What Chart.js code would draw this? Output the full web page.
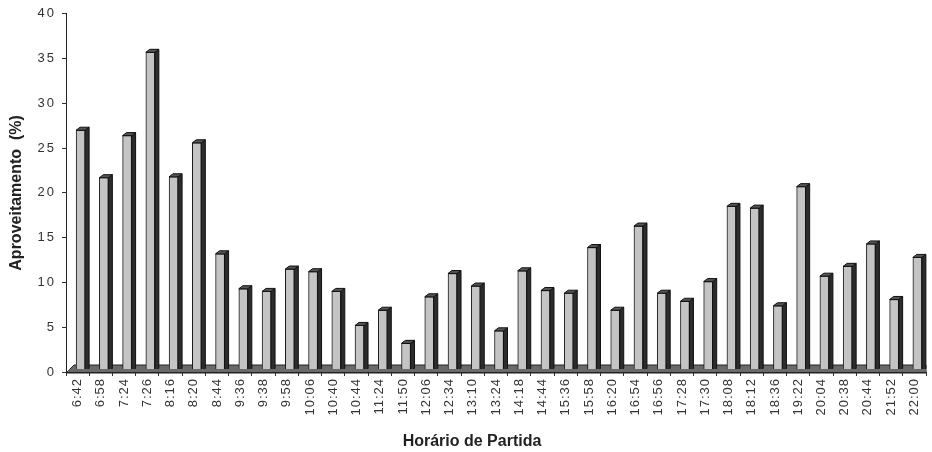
<!DOCTYPE html>
<html>
<head>
<meta charset="utf-8">
<script src="https://cdn.jsdelivr.net/npm/chart.js@4.4.1/dist/chart.umd.min.js"></script>
<style>
  html, body { margin: 0; padding: 0; background: #ffffff; }
  #wrap { width: 932px; height: 452px; }
</style>
</head>
<body>
<div id="wrap"><canvas id="chart" width="932" height="452"></canvas></div>
<script>
// Departure times (categories)
const departureTimes = [
  '6:42', '6:58', '7:24', '7:26', '8:16', '8:20', '8:44', '9:36', '9:38', '9:58',
  '10:06', '10:40', '10:44', '11:24', '11:50', '12:06', '12:34', '13:10', '13:24', '14:18',
  '14:44', '15:36', '15:58', '16:20', '16:54', '16:56', '17:28', '17:30', '18:08', '18:12',
  '18:36', '19:22', '20:04', '20:38', '20:44', '21:52', '22:00'
];

// Occupancy per departure (%)
const occupancy = [
  27.0, 21.7, 26.4, 35.7, 21.8, 25.6, 13.2, 9.3, 9.0, 11.5,
  11.2, 9.0, 5.2, 6.9, 3.2, 8.4, 11.0, 9.6, 4.6, 11.3,
  9.1, 8.8, 13.9, 6.9, 16.3, 8.8, 7.9, 10.1, 18.5, 18.3,
  7.4, 20.7, 10.7, 11.8, 14.3, 8.1, 12.8
];

// Value axis ticks
const yTickValues = [0, 5, 10, 15, 20, 25, 30, 35, 40];

const FONT = "'Liberation Sans', Arial, sans-serif";
const DEPTH_X = 4;   // side-face depth
const DEPTH_Y = 3;   // top-face depth
const SHIFT_X = 3;   // columns sit slightly right of the category centre

// Floor slab under the columns, plus the 3D side/top faces of each column
const depthPlugin = {
  id: 'columnDepth',
  beforeDatasetsDraw(chart) {
    const { ctx, chartArea } = chart;
    const y0 = chart.scales.y.getPixelForValue(0);
    ctx.save();
    ctx.beginPath();
    ctx.moveTo(chartArea.left, y0 + 1);
    ctx.lineTo(chartArea.left + 8, y0 - 7);
    ctx.lineTo(chartArea.right, y0 - 7);
    ctx.lineTo(chartArea.right, y0 + 1);
    ctx.closePath();
    ctx.fillStyle = '#6a6a6a';
    ctx.fill();
    ctx.strokeStyle = '#222';
    ctx.lineWidth = 1;
    ctx.stroke();
    ctx.restore();
  },
  beforeDatasetDraw(chart) {
    chart.ctx.save();
    chart.ctx.translate(SHIFT_X, 0);
  },
  afterDatasetDraw(chart, args) {
    const { ctx } = chart;
    const meta = args.meta;
    meta.data.forEach(bar => {
      const p = bar.getProps(['x', 'y', 'base', 'width'], true);
      const l = p.x - p.width / 2, r = p.x + p.width / 2;
      // right side face
      ctx.beginPath();
      ctx.moveTo(r, p.y);
      ctx.lineTo(r + DEPTH_X, p.y - DEPTH_Y);
      ctx.lineTo(r + DEPTH_X, p.base - DEPTH_Y);
      ctx.lineTo(r, p.base);
      ctx.closePath();
      ctx.fillStyle = '#2c2c2c';
      ctx.fill();
      ctx.strokeStyle = '#111';
      ctx.lineWidth = 1;
      ctx.stroke();
      // top face
      ctx.beginPath();
      ctx.moveTo(l, p.y);
      ctx.lineTo(l + DEPTH_X, p.y - DEPTH_Y);
      ctx.lineTo(r + DEPTH_X, p.y - DEPTH_Y);
      ctx.lineTo(r, p.y);
      ctx.closePath();
      ctx.fillStyle = '#555555';
      ctx.fill();
      ctx.stroke();
    });
    ctx.restore();
  },
  afterDatasetsDraw(chart) {
    // front strip of the floor, in front of the column bases
    const { ctx, chartArea } = chart;
    const y0 = chart.scales.y.getPixelForValue(0);
    ctx.save();
    ctx.beginPath();
    ctx.moveTo(chartArea.left, y0 + 1);
    ctx.lineTo(chartArea.left + 4, y0 - 3);
    ctx.lineTo(chartArea.right, y0 - 3);
    ctx.lineTo(chartArea.right, y0 + 1);
    ctx.closePath();
    ctx.fillStyle = '#6a6a6a';
    ctx.fill();
    ctx.beginPath();
    ctx.moveTo(chartArea.left, y0 + 0.5);
    ctx.lineTo(chartArea.right, y0 + 0.5);
    ctx.strokeStyle = '#222';
    ctx.lineWidth = 1;
    ctx.stroke();
    ctx.restore();
  },
  afterDraw(chart) {
    // horizontal axis title
    const { ctx, chartArea } = chart;
    ctx.save();
    ctx.font = 'bold 16px ' + FONT;
    ctx.fillStyle = '#222';
    ctx.textAlign = 'center';
    ctx.textBaseline = 'middle';
    ctx.fillText('Horário de Partida', (chartArea.left + chartArea.right) / 2 - 24, chart.height - 10);
    ctx.restore();
  }
};

// Slightly spaced tick lettering
const tickSpacingPlugin = {
  id: 'tickSpacing',
  beforeDraw(chart) {
    Object.values(chart.scales).forEach(s => {
      if (s._spaced) return;
      const orig = s.drawLabels;
      s.drawLabels = function (area) {
        const c = this.ctx;
        const prev = c.letterSpacing;
        c.letterSpacing = this.axis === 'y' ? '2px' : '1px';
        orig.call(this, area);
        c.letterSpacing = prev;
      };
      s._spaced = true;
    });
  }
};

new Chart(document.getElementById('chart'), {
  type: 'bar',
  data: {
    labels: departureTimes,
    datasets: [{
      data: occupancy,
      backgroundColor: '#c4c4c4',
      borderColor: '#1a1a1a',
      borderWidth: 1,
      borderSkipped: false,
      barThickness: 9
    }]
  },
  options: {
    responsive: false,
    animation: false,
    devicePixelRatio: 1,
    layout: { padding: { top: 13, right: 1, left: 0, bottom: 0 } },
    plugins: {
      legend: { display: false },
      tooltip: { enabled: false }
    },
    scales: {
      x: {
        offset: true,
        grid: { display: true, offset: true, drawOnChartArea: false, drawTicks: true, tickLength: 4, tickColor: '#333' },
        border: { display: true, color: '#222' },
        ticks: {
          autoSkip: false, minRotation: 90, maxRotation: 90, padding: 2,
          color: '#333', font: { family: FONT, size: 13 }
        },
        title: { display: false },
        afterFit(scale) { scale.height = 80; }
      },
      y: {
        min: 0, max: 40,
        afterBuildTicks(scale) { scale.ticks = yTickValues.map(v => ({ value: v })); },
        grid: { display: true, drawOnChartArea: false, drawTicks: true, tickLength: 4, tickColor: '#333' },
        border: { display: true, color: '#222' },
        ticks: { padding: 6, color: '#333', font: { family: FONT, size: 13 } },
        title: {
          display: true, text: 'Aproveitamento  (%)', color: '#222',
          font: { family: FONT, size: 16, weight: 'bold' }, padding: { top: 7, bottom: 0 }
        },
        afterFit(scale) { scale.width = 66; }
      }
    }
  },
  plugins: [depthPlugin, tickSpacingPlugin]
});
</script>
</body>
</html>
